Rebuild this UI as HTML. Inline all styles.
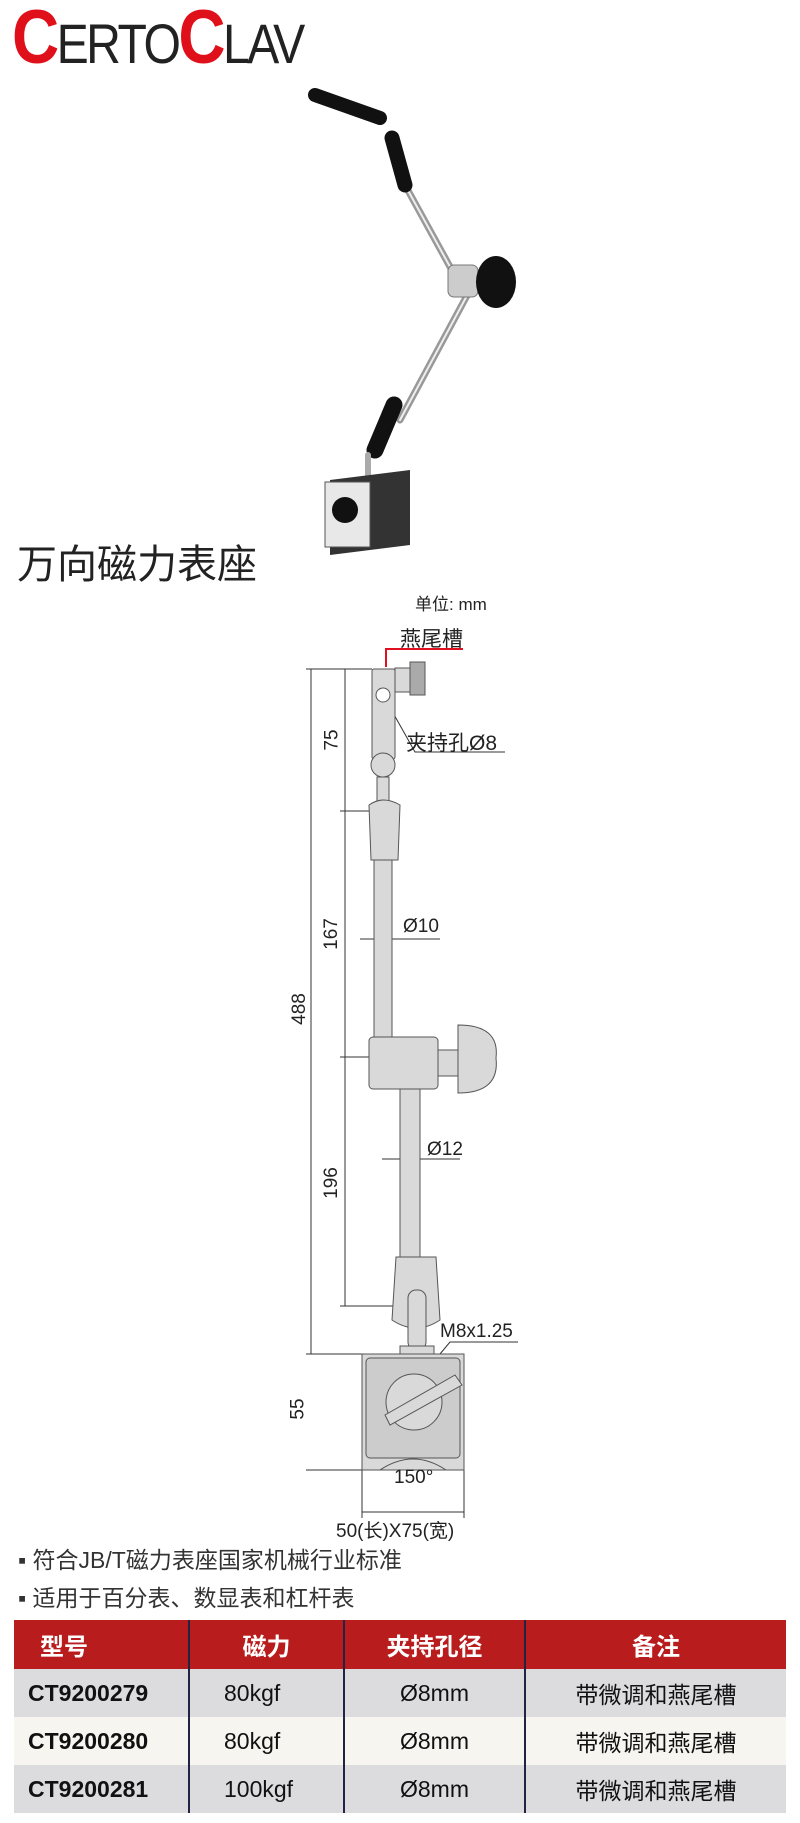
<!DOCTYPE html>
<html><head><meta charset="utf-8"><style>
*{margin:0;padding:0}
body{width:800px;height:1823px;background:#fff;position:relative;overflow:hidden;font-family:"Liberation Sans","Noto Sans CJK SC",sans-serif}
.a{position:absolute;white-space:nowrap}
table{position:absolute;left:14px;top:1620px;width:772px;border-collapse:collapse}
td{height:48px;font-size:23px;color:#111;border-left:2px solid #222244}
td:first-child{border-left:none}
tr.h td{background:#b81c1c;color:#fff;font-weight:bold;font-size:24px;height:49px;text-align:center}
</style></head><body>
<div class="a" style="left:12px;top:2px;font-size:56px;line-height:72px;color:#222;letter-spacing:-3px;transform:scaleX(0.86);transform-origin:left"><span style="color:#e0101a;font-size:76px;font-weight:bold">C</span>ERTO<span style="color:#e0101a;font-size:76px;font-weight:bold">C</span>LAV</div>

<svg class="a" style="left:0;top:0" width="800" height="1600">
 <!-- photo -->
 <g stroke-linecap="round">
  <line x1="405" y1="185" x2="460" y2="285" stroke="#999" stroke-width="7"/>
  <line x1="405" y1="185" x2="460" y2="285" stroke="#eee" stroke-width="2"/>
  <line x1="470" y1="290" x2="400" y2="420" stroke="#999" stroke-width="7"/>
  <line x1="470" y1="290" x2="400" y2="420" stroke="#eee" stroke-width="2"/>
  <line x1="315" y1="95" x2="380" y2="118" stroke="#111" stroke-width="14"/>
  <line x1="392" y1="138" x2="405" y2="185" stroke="#111" stroke-width="15"/>
  <line x1="394" y1="405" x2="375" y2="450" stroke="#111" stroke-width="17"/>
  <rect x="448" y="265" width="30" height="32" rx="6" fill="#ccc" stroke="#777"/>
  <ellipse cx="496" cy="282" rx="20" ry="26" fill="#111"/>
  <line x1="368" y1="455" x2="368" y2="480" stroke="#aaa" stroke-width="6"/>
 </g>
 <polygon points="330,480 410,470 410,545 330,555" fill="#333"/>
 <rect x="325" y="482" width="45" height="65" fill="#e8e8e8" stroke="#555"/>
 <circle cx="345" cy="510" r="13" fill="#111"/>
 <!-- drawing -->
 <g stroke="#333" stroke-width="1" fill="none">
  <line x1="311" y1="669" x2="311" y2="1354"/>
  <line x1="306" y1="669" x2="372" y2="669"/>
  <line x1="345" y1="669" x2="345" y2="1306"/>
  <line x1="340" y1="811" x2="372" y2="811"/>
  <line x1="340" y1="1057" x2="372" y2="1057"/>
  <line x1="340" y1="1306" x2="395" y2="1306"/>
  <line x1="306" y1="1354" x2="362" y2="1354"/>
  <line x1="306" y1="1470" x2="362" y2="1470"/>
  <line x1="362" y1="1470" x2="362" y2="1518"/>
  <line x1="464" y1="1470" x2="464" y2="1518"/>
  <line x1="362" y1="1512" x2="464" y2="1512"/>
  <line x1="360" y1="939" x2="440" y2="939"/>
  <line x1="382" y1="1159" x2="460" y2="1159"/>
  <path d="M383 695 L415 752 L505 752"/>
  <path d="M440 1354 L450 1342 L518 1342"/>
 </g>
 <path d="M386 667 V649 H463" stroke="#e01020" stroke-width="2" fill="none"/>
 <g fill="#d9d9d9" stroke="#555" stroke-width="1">
  <rect x="374" y="858" width="18" height="180"/>
  <rect x="400" y="1089" width="20" height="170"/>
  <rect x="372" y="669" width="23" height="90" rx="2"/>
  <rect x="395" y="668" width="15" height="24"/>
  <rect x="410" y="662" width="15" height="33" fill="#aaa"/>
  <circle cx="383" cy="765" r="12"/>
  <rect x="377" y="777" width="12" height="25"/>
  <path d="M369 805 Q383 795 400 805 L398 860 L371 860 Z"/>
  <rect x="369" y="1037" width="69" height="52" rx="4"/>
  <rect x="438" y="1050" width="22" height="26"/>
  <path d="M458 1025 Q500 1025 496 1058 Q500 1093 458 1093 Z"/>
  <path d="M396 1257 L436 1257 L440 1320 Q416 1336 392 1320 Z"/>
  <rect x="408" y="1290" width="18" height="60" rx="8"/>
  <rect x="400" y="1346" width="34" height="8"/>
  <rect x="362" y="1354" width="102" height="116"/>
  <rect x="366" y="1358" width="94" height="100" rx="4" fill="#ccc"/>
  <circle cx="414" cy="1402" r="28"/>
  <path d="M385 1415 L455 1375 L462 1385 L390 1425 Z"/>
  <path d="M380 1470 Q413 1448 446 1470" fill="none"/>
 </g>
 <circle cx="383" cy="695" r="7" fill="#fff" stroke="#555"/>
</svg>

<div class="a" style="left:17px;top:543px;font-size:40px;line-height:44px;color:#222">万向磁力表座</div>
<div class="a" style="left:415px;top:590px;font-size:17px;color:#222">单位: mm</div>
<div class="a" style="left:400px;top:623px;font-size:21px;color:#222">燕尾槽</div>
<div class="a" style="left:406px;top:727px;font-size:21px;color:#222">夹持孔Ø8</div>
<div class="a" style="left:403px;top:916px;font-size:19px;color:#222">Ø10</div>
<div class="a" style="left:427px;top:1139px;font-size:19px;color:#222">Ø12</div>
<div class="a" style="left:440px;top:1321px;font-size:19px;color:#222">M8x1.25</div>
<div class="a" style="left:394px;top:1467px;font-size:19px;color:#222">150°</div>
<div class="a" style="left:336px;top:1516px;font-size:19px;color:#222">50(长)X75(宽)</div>
<div class="a" style="left:322px;top:729px;font-size:19px;color:#222;transform:rotate(-90deg)">75</div>
<div class="a" style="left:316px;top:923px;font-size:19px;color:#222;transform:rotate(-90deg)">167</div>
<div class="a" style="left:316px;top:1172px;font-size:19px;color:#222;transform:rotate(-90deg)">196</div>
<div class="a" style="left:284px;top:998px;font-size:19px;color:#222;transform:rotate(-90deg)">488</div>
<div class="a" style="left:288px;top:1398px;font-size:19px;color:#222;transform:rotate(-90deg)">55</div>

<div class="a" style="left:18px;top:1541px;font-size:23px;color:#333">▪ 符合JB/T磁力表座国家机械行业标准</div>
<div class="a" style="left:18px;top:1579px;font-size:23px;color:#333">▪ 适用于百分表、数显表和杠杆表</div>

<table>
<colgroup><col style="width:175px"><col style="width:155px"><col style="width:181px"><col></colgroup>
<tr class="h"><td style="text-align:left;padding-left:26px">型号</td><td>磁力</td><td>夹持孔径</td><td>备注</td></tr>
<tr style="background:#dcdbde"><td style="padding-left:14px;font-weight:bold">CT9200279</td><td style="padding-left:34px">80kgf</td><td style="text-align:center">Ø8mm</td><td style="text-align:center">带微调和燕尾槽</td></tr>
<tr style="background:#f7f5f0"><td style="padding-left:14px;font-weight:bold">CT9200280</td><td style="padding-left:34px">80kgf</td><td style="text-align:center">Ø8mm</td><td style="text-align:center">带微调和燕尾槽</td></tr>
<tr style="background:#dcdbde"><td style="padding-left:14px;font-weight:bold">CT9200281</td><td style="padding-left:34px">100kgf</td><td style="text-align:center">Ø8mm</td><td style="text-align:center">带微调和燕尾槽</td></tr>
</table>
</body></html>
